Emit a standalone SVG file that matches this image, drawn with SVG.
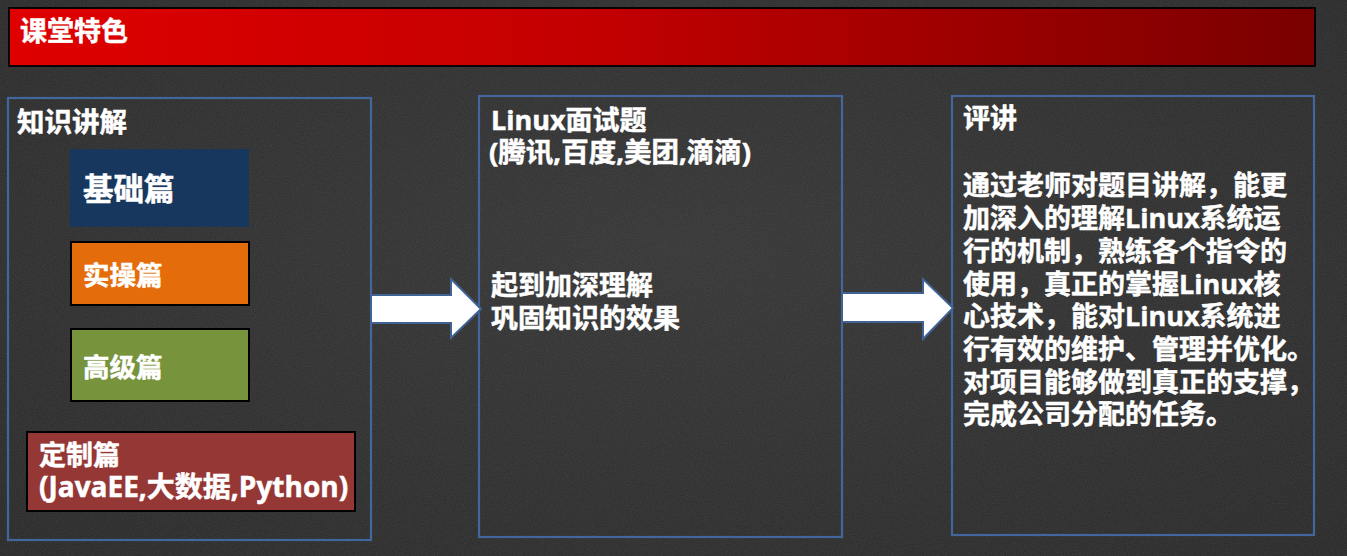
<svg xmlns="http://www.w3.org/2000/svg" width="1347" height="556" viewBox="0 0 1347 556">
<defs>
<linearGradient id="bannerGrad" x1="0" y1="0" x2="1" y2="0">
<stop offset="0" stop-color="#df0000"/>
<stop offset="0.45" stop-color="#c30000"/>
<stop offset="1" stop-color="#7a0000"/>
</linearGradient>
<radialGradient id="bgGrad" cx="0.5" cy="0.45" r="0.75">
<stop offset="0" stop-color="#333333"/>
<stop offset="1" stop-color="#262626"/>
</radialGradient>
<filter id="chalk" x="0" y="0" width="1" height="1">
<feTurbulence type="fractalNoise" baseFrequency="0.9" numOctaves="2" seed="3" result="n"/>
<feColorMatrix type="matrix" values="0 0 0 0 1  0 0 0 0 1  0 0 0 0 1  0 0 0 0.10 0" in="n"/>
</filter>
<style>
.t{font-family:"Open Sans","Noto Sans CJK SC","Noto Sans",sans-serif;font-weight:bold;fill:#ffffff;stroke:#ffffff;stroke-width:0.5;}
.frame{fill:none;stroke:#41679c;stroke-width:2.2;}
.arrow{fill:#ffffff;stroke:#3e6394;stroke-width:2;stroke-linejoin:miter;}
.blk{stroke:#000000;stroke-width:2;}
</style>
</defs>
<rect x="0" y="0" width="1347" height="556" fill="url(#bgGrad)"/>
<rect x="0" y="0" width="1347" height="556" filter="url(#chalk)"/>

<g id="banner">
<rect x="9" y="8" width="1306" height="58" fill="url(#bannerGrad)" stroke="#000" stroke-width="1.8"/>
<text class="t" x="20" y="41" font-size="27">课堂特色</text>
</g>

<g id="knowledge">
<rect class="frame" x="8" y="98" width="363" height="442"/>
<text class="t" x="17" y="132" font-size="27.5">知识讲解</text>
</g>

<g id="basic">
<rect x="70" y="149" width="179" height="78" fill="#17375e"/>
<text class="t" x="83" y="200" font-size="30.5">基础篇</text>
</g>

<g id="practice">
<rect class="blk" x="71" y="242" width="178" height="63" fill="#e46c0a"/>
<text class="t" x="83" y="285" font-size="26.5">实操篇</text>
</g>

<g id="advanced">
<rect class="blk" x="71" y="329" width="178" height="72" fill="#77933c"/>
<text class="t" x="83" y="377" font-size="26.5">高级篇</text>
</g>

<g id="custom">
<rect class="blk" x="27" y="432" width="328" height="79" fill="#953735"/>
<text class="t" x="39" y="465" font-size="27">定制篇</text>
<text class="t" x="39" y="497" font-size="28">(JavaEE,大数据,Python)</text>
</g>

<g id="interview">
<rect class="frame" x="479" y="96" width="363" height="441"/>
<text class="t" x="491" y="130" font-size="27">Linux面试题</text>
<text class="t" x="489" y="162" font-size="27.5">(腾讯,百度,美团,滴滴)</text>
<text class="t" x="491" y="295" font-size="27">起到加深理解</text>
<text class="t" x="491" y="328" font-size="27">巩固知识的效果</text>
</g>

<g id="review">
<rect class="frame" x="952" y="96" width="362" height="439"/>
<text class="t" x="963" y="128" font-size="27">评讲</text>
<text class="t" font-size="27">
<tspan x="963" y="195">通过老师对题目讲解，能更</tspan>
<tspan x="963" y="228">加深入的理解Linux系统运</tspan>
<tspan x="963" y="261">行的机制，熟练各个指令的</tspan>
<tspan x="963" y="294">使用，真正的掌握Linux核</tspan>
<tspan x="963" y="326">心技术，能对Linux系统进</tspan>
<tspan x="963" y="359">行有效的维护、管理并优化。</tspan>
<tspan x="963" y="392">对项目能够做到真正的支撑，</tspan>
<tspan x="963" y="424">完成公司分配的任务。</tspan>
</text>
</g>

<g id="connectors">
<polygon class="arrow" points="371,295 451,295 451,279 481,309 451,338 451,323 371,323"/>
<polygon class="arrow" points="842,293 923,293 923,279 953,308 923,339 923,322 842,322"/>
</g>
</svg>
